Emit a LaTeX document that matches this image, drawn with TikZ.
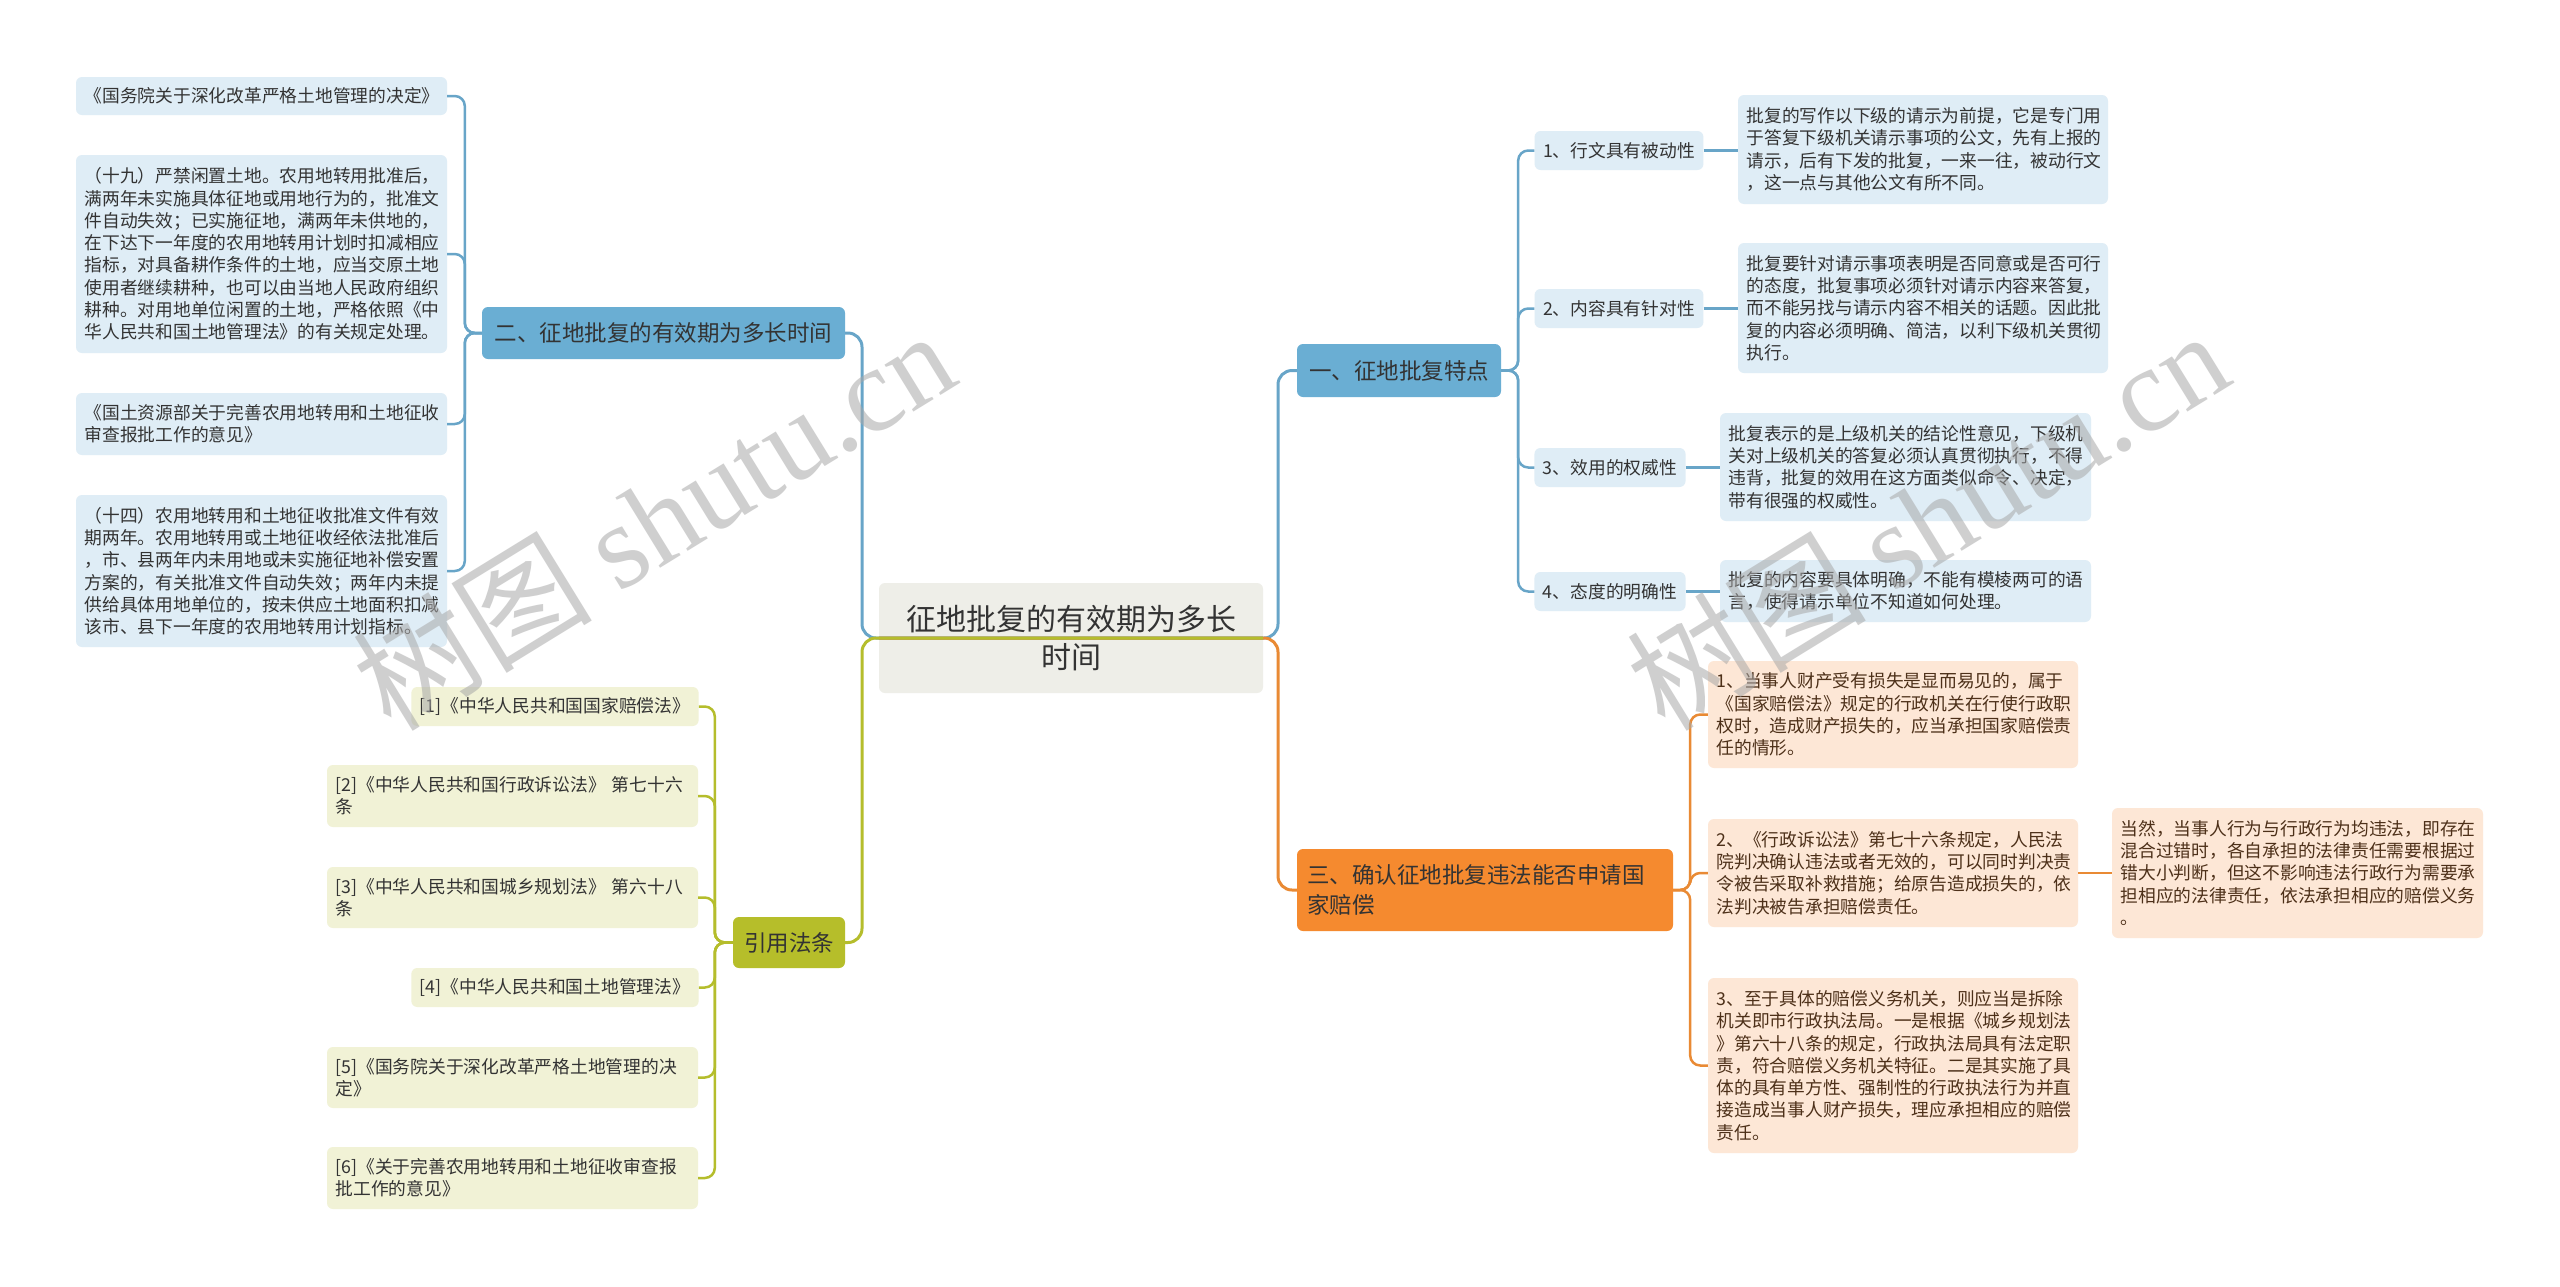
\documentclass[tikz,border=0pt]{standalone}
\usepackage{fontspec}
\setmainfont{Noto Sans CJK SC}
\newfontfamily\wmlatin{Liberation Serif}
\definecolor{txt}{HTML}{333333}
\definecolor{otxt}{HTML}{4D3019}
\definecolor{lblue}{HTML}{DFEDF6}
\definecolor{mblue}{HTML}{6AAED3}
\definecolor{cblue}{HTML}{68A5C8}
\definecolor{lyel}{HTML}{F1F2D6}
\definecolor{myel}{HTML}{B6BE2A}
\definecolor{cyel}{HTML}{B5BD2C}
\definecolor{lora}{HTML}{FDE7D6}
\definecolor{mora}{HTML}{F58A2F}
\definecolor{cora}{HTML}{E98A34}
\definecolor{cen}{HTML}{EEEEE8}
\definecolor{wmc}{HTML}{A8A8A8}
\begin{document}
\begin{tikzpicture}[x=1pt,y=-1pt,
  base/.style={rounded corners=6pt, inner ysep=0pt, inner xsep=8.5pt, text=txt, font=\fontsize{17.75}{22.3}\selectfont},
  lbx/.style={base, fill=lblue, align=left},
  ybx/.style={base, fill=lyel, align=left},
  obx/.style={base, fill=lora, align=left, text=otxt},
  mainbox/.style={rounded corners=6pt, inner sep=0pt, text=txt, font=\fontsize{22.5}{30}\selectfont},
  cline/.style={line width=3pt, rounded corners=14pt},
  sline/.style={line width=2.5pt, rounded corners=10pt},
  wmark/.style={text=wmc, opacity=0.55, rotate=31.6, font=\fontsize{120}{120}\selectfont}
]
\useasboundingbox[fill=white] (0,0) rectangle (2560,1286);

% central node
\node[mainbox, fill=cen, minimum width=384pt, minimum height=110pt, align=center, font=\fontsize{30}{38}\selectfont] (c) at (1071,638) {征地批复的有效期为多长\\时间};
\coordinate (jl) at (862,638);
\coordinate (jr) at (1278,638);

% left branch: 二
\node[mainbox, fill=mblue, minimum width=363pt, minimum height=52pt] (m1) at (663.5,333) {二、征地批复的有效期为多长时间};
\node[lbx, text width=354pt, minimum height=38pt] (k1) at (261.5,96) {《国务院关于深化改革严格土地管理的决定》};
\node[lbx, text width=354pt, minimum height=198pt] (k2) at (261.5,254) {（十九）严禁闲置土地。农用地转用批准后，\\满两年未实施具体征地或用地行为的，批准文\\件自动失效；已实施征地，满两年未供地的，\\在下达下一年度的农用地转用计划时扣减相应\\指标，对具备耕作条件的土地，应当交原土地\\使用者继续耕种，也可以由当地人民政府组织\\耕种。对用地单位闲置的土地，严格依照《中\\华人民共和国土地管理法》的有关规定处理。};
\node[lbx, text width=354pt, minimum height=62pt] (k3) at (261.5,424) {《国土资源部关于完善农用地转用和土地征收\\审查报批工作的意见》};
\node[lbx, text width=354pt, minimum height=152pt] (k4) at (261.5,571) {（十四）农用地转用和土地征收批准文件有效\\期两年。农用地转用或土地征收经依法批准后\\，市、县两年内未用地或未实施征地补偿安置\\方案的，有关批准文件自动失效；两年内未提\\供给具体用地单位的，按未供应土地面积扣减\\该市、县下一年度的农用地转用计划指标。};

% left branch: 引用法条
\node[mainbox, fill=myel, minimum width=112pt, minimum height=51pt] (y0) at (789,942.5) {引用法条};
\node[ybx, align=center, minimum width=286pt, minimum height=39pt] (r1) at (555,706.5) {[1]《中华人民共和国国家赔偿法》};
\node[ybx, text width=354pt, minimum height=62pt] (r2) at (512.5,796) {[2]《中华人民共和国行政诉讼法》 第七十六\\条};
\node[ybx, text width=354pt, minimum height=61pt] (r3) at (512.5,897.5) {[3]《中华人民共和国城乡规划法》 第六十八\\条};
\node[ybx, align=center, minimum width=286pt, minimum height=39pt] (r4) at (555,987.5) {[4]《中华人民共和国土地管理法》};
\node[ybx, text width=354pt, minimum height=61pt] (r5) at (512.5,1077.5) {[5]《国务院关于深化改革严格土地管理的决\\定》};
\node[ybx, text width=354pt, minimum height=62pt] (r6) at (512.5,1178) {[6]《关于完善农用地转用和土地征收审查报\\批工作的意见》};

% right branch: 一
\node[mainbox, fill=mblue, minimum width=204pt, minimum height=53pt] (m2) at (1399,370.5) {一、征地批复特点};
\node[lbx, align=center, minimum width=168pt, minimum height=39pt] (s1) at (1619,150.5) {1、行文具有被动性};
\node[lbx, align=center, minimum width=168pt, minimum height=39pt] (s2) at (1619,308.5) {2、内容具有针对性};
\node[lbx, align=center, minimum width=150pt, minimum height=39pt] (s3) at (1610,467.5) {3、效用的权威性};
\node[lbx, align=center, minimum width=150pt, minimum height=39pt] (s4) at (1610,591.5) {4、态度的明确性};
\node[lbx, text width=353pt, minimum height=109pt] (t1) at (1923,149.5) {批复的写作以下级的请示为前提，它是专门用\\于答复下级机关请示事项的公文，先有上报的\\请示，后有下发的批复，一来一往，被动行文\\，这一点与其他公文有所不同。};
\node[lbx, text width=353pt, minimum height=130pt] (t2) at (1923,308) {批复要针对请示事项表明是否同意或是否可行\\的态度，批复事项必须针对请示内容来答复，\\而不能另找与请示内容不相关的话题。因此批\\复的内容必须明确、简洁，以利下级机关贯彻\\执行。};
\node[lbx, text width=354pt, minimum height=108pt] (t3) at (1905.5,467) {批复表示的是上级机关的结论性意见，下级机\\关对上级机关的答复必须认真贯彻执行，不得\\违背，批复的效用在这方面类似命令、决定，\\带有很强的权威性。};
\node[lbx, text width=354pt, minimum height=62pt] (t4) at (1905.5,591) {批复的内容要具体明确，不能有模棱两可的语\\言，使得请示单位不知道如何处理。};

% right branch: 三
\node[mainbox, fill=mora, text width=356pt, inner xsep=10pt, minimum height=82pt, align=left] (m3) at (1485,890) {三、确认征地批复违法能否申请国\\家赔偿};
\node[obx, text width=353pt, minimum height=107pt] (o1) at (1893,714.5) {1、当事人财产受有损失是显而易见的，属于\\《国家赔偿法》规定的行政机关在行使行政职\\权时，造成财产损失的，应当承担国家赔偿责\\任的情形。};
\node[obx, text width=353pt, minimum height=108pt] (o2) at (1893,873) {2、《行政诉讼法》第七十六条规定，人民法\\院判决确认违法或者无效的，可以同时判决责\\令被告采取补救措施；给原告造成损失的，依\\法判决被告承担赔偿责任。};
\node[obx, text width=353pt, minimum height=175pt] (o3) at (1893,1065.5) {3、至于具体的赔偿义务机关，则应当是拆除\\机关即市行政执法局。一是根据《城乡规划法\\》第六十八条的规定，行政执法局具有法定职\\责，符合赔偿义务机关特征。二是其实施了具\\体的具有单方性、强制性的行政执法行为并直\\接造成当事人财产损失，理应承担相应的赔偿\\责任。};
\node[obx, text width=354pt, minimum height=130pt] (o2a) at (2297.5,873) {当然，当事人行为与行政行为均违法，即存在\\混合过错时，各自承担的法律责任需要根据过\\错大小判断，但这不影响违法行政行为需要承\\担相应的法律责任，依法承担相应的赔偿义务\\。};

% main connectors (drawn over the central node)
\draw[cline, cblue] (c.east) -- (jl) |- (m1.east);
\draw[cline, cblue] (c.west) -- (jr) |- (m2.west);
\draw[cline, cora] (c.west) -- (jr) |- (m3.west);
\draw[cline, cyel] (c.east) -- (jl) |- (y0.east);

% sub connectors
\foreach \k in {k1,k2,k3,k4} \draw[sline, cblue] (m1.west) -- ++(-17,0) |- (\k.east);
\foreach \r in {r1,r2,r3,r4,r5,r6} \draw[sline, cyel] (y0.west) -- ++(-18,0) |- (\r.east);
\foreach \s in {s1,s2,s3,s4} \draw[sline, cblue] (m2.east) -- ++(17,0) |- (\s.west);
\draw[sline, cblue] (s1.east) -- (s1.east -| t1.west);
\draw[sline, cblue] (s2.east) -- (s2.east -| t2.west);
\draw[sline, cblue] (s3.east) -- (s3.east -| t3.west);
\draw[sline, cblue] (s4.east) -- (s4.east -| t4.west);
\foreach \o in {o1,o2,o3} \draw[sline, cora] (m3.east) -- ++(17,0) |- (\o.west);
\draw[sline, cora] (o2.east) -- (o2.east -| o2a.west);

% watermarks
\node[wmark] (wm1) at (653,519) {树图 {\wmlatin shutu.cn}};
\node[wmark] (wm2) at (1927,519) {树图 {\wmlatin shutu.cn}};
\end{tikzpicture}
\end{document}
